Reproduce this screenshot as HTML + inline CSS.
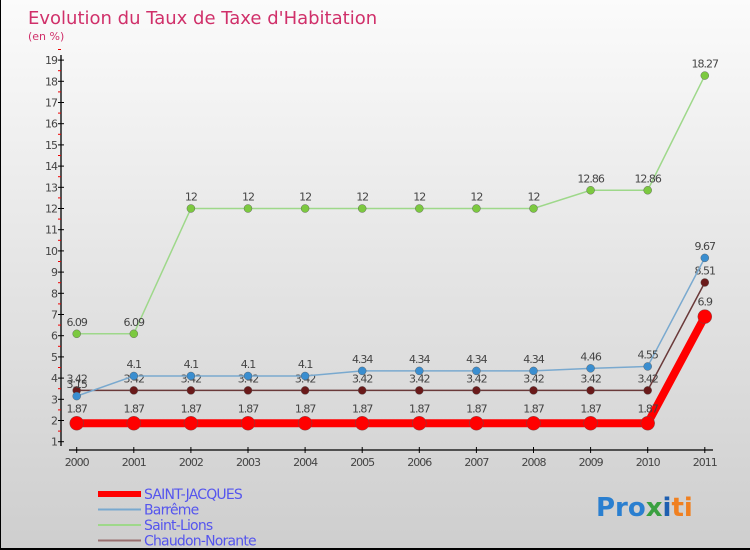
<!DOCTYPE html>
<html><head><meta charset="utf-8"><style>
body{margin:0}
#c{width:750px;height:550px;position:relative;background:linear-gradient(#fbfbfb,#cecece);box-sizing:border-box;border-left:1px solid #000;border-bottom:2px solid #000;overflow:hidden;font-family:"DejaVu Sans","Liberation Sans",sans-serif}
</style></head><body>
<div id="c">
<svg width="750" height="550" id="s">
<text x="27" y="24" font-size="18" fill="#d0306a">Evolution du Taux de Taxe d'Habitation</text>
<text x="27" y="40" font-size="11" fill="#d0306a">(en %)</text>
<g id="g"></g>
<text x="595" y="516" font-size="26" font-weight="bold"><tspan fill="#2a7fd0">Pro</tspan><tspan fill="#3aa040">x</tspan><tspan fill="#1e5fb0">i</tspan><tspan fill="#f08020">ti</tspan></text>
</svg>
</div>
<script>
const years=['2000','2001','2002','2003','2004','2005','2006','2007','2008','2009','2010','2011'];
const sj=[1.87,1.87,1.87,1.87,1.87,1.87,1.87,1.87,1.87,1.87,1.87,6.9];
const barreme=[3.15,4.1,4.1,4.1,4.1,4.34,4.34,4.34,4.34,4.46,4.55,9.67];
const lions=[6.09,6.09,12,12,12,12,12,12,12,12.86,12.86,18.27];
const chaudon=[3.42,3.42,3.42,3.42,3.42,3.42,3.42,3.42,3.42,3.42,3.42,8.51];
const yTicks=[1,2,3,4,5,6,7,8,9,10,11,12,13,14,15,16,17,18,19];
const NS='http://www.w3.org/2000/svg',g=document.getElementById('g');
const X=i=>75.7+i*57.1, Y=v=>441.7-(v-1)*21.2;
function el(t,a,p){const e=document.createElementNS(NS,t);for(const k in a)e.setAttribute(k,a[k]);(p||g).appendChild(e);return e;}
let ax=el('line',{x1:60,y1:55,x2:60,y2:446,stroke:'#000','stroke-width':1.3});


let xa=el('line',{x1:68,y1:450,x2:712,y2:450,stroke:'#000','stroke-width':1.3});


yTicks.forEach(v=>{
 el('line',{x1:57,y1:Y(v),x2:63,y2:Y(v),stroke:'#000'});
 el('line',{x1:57,y1:Y(v+0.5),x2:60,y2:Y(v+0.5),stroke:'#e00'});
 const t=el('text',{x:56,y:Y(v)+4,'font-size':11,fill:'#444','text-anchor':'end','letter-spacing':'-1'});t.textContent=v;
 
 
});
years.forEach((y,i)=>{
 el('line',{x1:X(i),y1:447,x2:X(i),y2:453,stroke:'#000'});
 const t=el('text',{x:X(i),y:466,'font-size':11,fill:'#444','text-anchor':'middle','letter-spacing':'-1'});t.textContent=y;
 
 
});
function series(d,col,w,r,dot,name,lblOff){
 const p=el('polyline',{points:d.map((v,i)=>X(i)+','+Y(v)).join(' '),fill:'none',stroke:col,'stroke-width':w});
 
 
 d.forEach((v,i)=>{
  const c=el('circle',{cx:X(i),cy:Y(v),r:r,fill:dot,stroke:'#555','stroke-width':0.4});
  
  
  const t=el('text',{x:X(i),y:Y(v)-lblOff,'font-size':11,fill:'#444','text-anchor':'middle','letter-spacing':'-1'});t.textContent=v;
  
  
 });
}
series(lions,'#9ed88a',1.5,4,'#7cc940','saint-lions',8);
series(chaudon,'#6a3a3a',1.5,4,'#6a1a1a','chaudon-norante',8);
series(barreme,'#79a9cf',1.5,4,'#3a8ed0','barreme',8);
series(sj,'#f00',8,7,'#f00','saint-jacques',11);
const leg=[['SAINT-JACQUES','#f00',6],['Barrême','#79a9cf',2],['Saint-Lions','#9ed88a',2],['Chaudon-Norante','#9a7070',2]];
leg.forEach((l,i)=>{
 const y=493+i*15.5;
 const ln=el('line',{x1:97,y1:y+1,x2:140,y2:y+1,stroke:l[1],'stroke-width':l[2]});
 
 
 const t=el('text',{x:143,y:y+6,'font-size':14,fill:'#5555ee','letter-spacing':'-0.8'});t.textContent=l[0];
 
 
});
</script>
</body></html>
